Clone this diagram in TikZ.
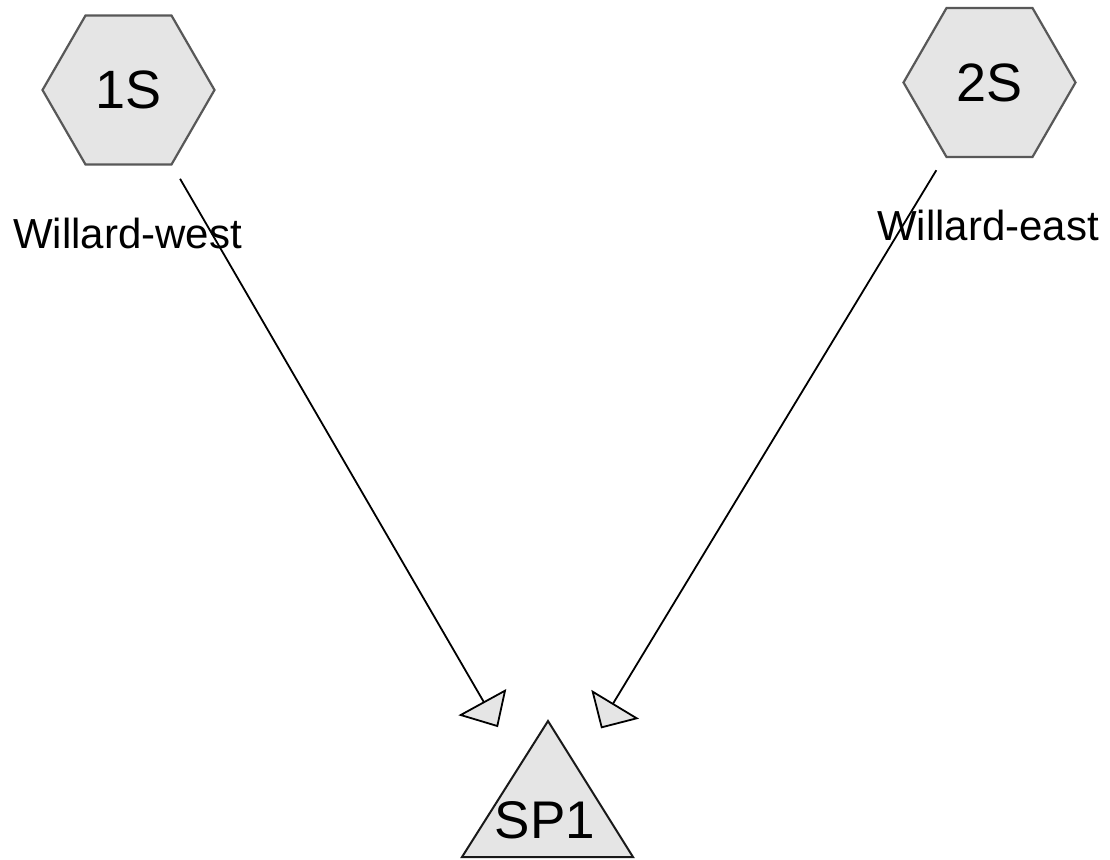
\documentclass[tikz,border=0pt]{standalone}
\usepackage{fontspec}
\setmainfont{Liberation Sans}
\usepackage{xcolor}
\usepackage{tikz}
\usetikzlibrary{shapes.geometric}
\definecolor{shapefill}{RGB}{229,229,229}
\definecolor{hexline}{RGB}{88,88,88}

\begin{document}
\begin{tikzpicture}[x=1pt, y=-1pt,
  hexnode/.style={regular polygon, regular polygon sides=6, minimum size=172pt, inner sep=0pt, fill=shapefill, draw=hexline, line width=2.2pt, font=\fontsize{54}{62}\selectfont},
  sitelabel/.style={inner sep=0pt, anchor=base west, font=\fontsize{42}{50}\selectfont},
  flow/.style={line width=1.8pt},
  flowhead/.style={fill=shapefill, draw=black, line width=1.8pt, line join=miter}]
\useasboundingbox (0,0) rectangle (1110,859);
\node[hexnode] (s1) at (128.5,90) {1S};
\node[hexnode] (s2) at (989.5,82.5) {2S};
\node[sitelabel] (west) at (13,248) {Willard-west};
\node[sitelabel] (east) at (877,240) {Willard-east};
\draw[fill=shapefill, draw=black!90, line width=2pt, line join=miter] (462,857) -- (548,721) -- (633,857) -- cycle;
\coordinate (sp1c) at (547.5,811.7);
\node[inner sep=0pt, anchor=base, font=\fontsize{53}{60}\selectfont] (sp1) at (545,838) {SP1};
\draw[flow, shorten <=102.7pt, shorten >=126.4pt] (s1.center) -- (sp1c);
\draw[flow, shorten <=102.6pt, shorten >=126.4pt] (s2.center) -- (sp1c);
\draw[flowhead] (460.7,715) -- (505,690.7) -- (497.3,726) -- cycle;
\draw[flowhead] (592.7,691.7) -- (636.7,718.3) -- (601.7,727.3) -- cycle;
\end{tikzpicture}
\end{document}
